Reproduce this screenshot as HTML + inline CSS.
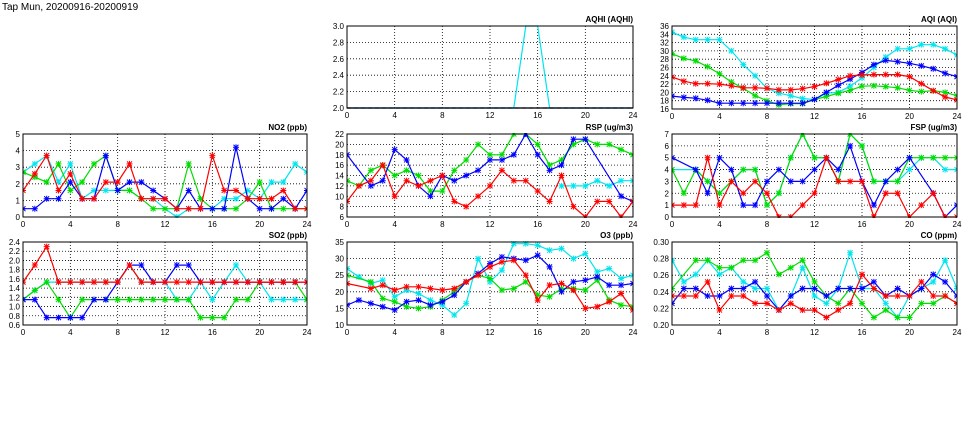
<!DOCTYPE html>
<html><head><meta charset="utf-8"><style>
html,body{margin:0;padding:0;background:#fff;}
svg{display:block;font-family:"Liberation Sans",sans-serif;}
</style></head><body>
<svg id="c" width="975" height="447" viewBox="0 0 975 447" xmlns="http://www.w3.org/2000/svg">
<text x="2" y="10" font-size="10" fill="#000">Tap Mun, 20200916-20200919</text>
</svg>
<script>
const hours = [0,1,2,3,4,5,6,7,8,9,10,11,12,13,14,15,16,17,18,19,20,21,22,23,24];
const xTicks = [0,4,8,12,16,20,24];
const seriesColors = ['#00e5ee','#00dd00','#0000ff','#ff0000'];
const N = null;
const no2Cyan=[2.7,3.2,3.7,2.1,3.2,1.1,1.6,1.6,1.6,1.6,1.1,1.1,0.5,0,0.5,0.5,0.5,1.1,1.1,1.6,1.1,2.1,2.1,3.2,2.7];
const no2Green=[2.7,2.4,2.1,3.2,1.6,2.1,3.2,3.7,1.6,1.6,1.1,0.5,0.5,0.5,3.2,1.1,0.5,0.5,0.5,1.1,2.1,0.5,0.5,0.5,0.5];
const no2Blue=[0.5,0.5,1.1,1.1,2.1,1.1,1.1,3.7,1.6,2.1,2.1,1.6,1.1,0.5,1.6,0.5,0.5,0.5,4.2,1.1,0.5,0.5,1.1,0.5,1.6];
const no2Red=[1.6,2.6,3.7,1.6,2.6,1.1,1.1,2.1,2.1,3.2,1.1,1.1,1.1,0.5,0.5,0.5,3.7,1.6,1.6,1.1,1.1,1.1,1.6,0.5,0.5];
const so2Cyan=[1.15,1.35,1.53,1.53,1.53,1.53,1.53,1.53,1.53,1.9,1.53,1.53,1.53,1.15,1.15,1.53,1.15,1.53,1.9,1.53,1.53,1.15,1.15,1.15,1.15];
const so2Green=[1.15,1.35,1.53,1.15,0.76,1.15,1.15,1.15,1.15,1.15,1.15,1.15,1.15,1.15,1.15,0.76,0.76,0.76,1.15,1.15,1.53,1.53,1.53,1.53,1.15];
const so2Blue=[1.15,1.15,0.76,0.76,0.76,0.76,1.15,1.15,1.53,1.9,1.9,1.53,1.53,1.9,1.9,1.53,1.53,1.53,1.53,1.53,1.53,1.53,1.53,1.53,1.53];
const so2Red=[1.53,1.9,2.3,1.53,1.53,1.53,1.53,1.53,1.53,1.9,1.53,1.53,1.53,1.53,1.53,1.53,1.53,1.53,1.53,1.53,1.53,1.53,1.53,1.53,1.53];
const rspCyan=[N,N,N,N,N,N,N,N,N,N,N,N,N,N,N,N,N,N,12,12,12,13,12,13,13];
const rspGreen=[13,12,15,16,14,15,14,11,11,15,17,20,18,18,22,22,20,16,17,20,21,20,20,19,18];
const rspBlue=[18,N,12,13,19,17,12,10,14,13,14,15,17,17,18,22,18,15,16,21,21,N,N,10,9];
const rspRed=[9,12,13,16,10,13,12,13,14,9,8,10,12,15,13,13,11,9,14,8,6,9,9,6,9];
const o3Cyan=[27,24.5,22.5,23.5,18.5,20.5,19.5,17.5,16,13,16.5,30,23,26.5,34.5,34.5,34,32.5,33,30,31.5,26,27,24,25];
const o3Green=[25,N,23,18,17,15.5,15,15.5,17.5,20,23,25,24,20.5,21,23,19,18.5,21,21,20.5,23.5,17.5,16,15.5];
const o3Blue=[16,17.5,16.5,15.5,14.5,17,17.5,16,17,19,23,25.5,28.5,30.5,30,29.5,31,27.5,20,23,23.5,24.5,22,22,22.5];
const o3Red=[22.5,N,21,22,20.5,21.5,21.5,21,20.5,21,23,25,27.5,29,29.5,25,17.5,22,22.5,20.5,15,15.5,17,19.5,14.5];
const aqhiCyan=[2,2,2,2,2,2,2,2,2,2,2,2,2,2,2,3,3,2,2,2,2,2,2,2,2];
const aqhiGreen=[2,2,2,2,2,2,2,2,2,2,2,2,2,2,2,2,2,2,2,2,2,2,2,2,2];
const aqhiBlue=[2,2,2,2,2,2,2,2,2,2,2,2,2,2,2,2,2,2,2,2,2,2,2,2,2];
const aqhiRed=[2,2,2,2,2,2,2,2,2,2,2,2,2,2,2,2,2,2,2,2,2,2,2,2,2];
const aqiCyan=[34.5,33.3,32.7,32.7,32.7,30,26.7,24,21,19.8,19.2,18.5,18.3,19.8,20,21.5,23.5,26,28.5,30.5,30.5,31.5,31.5,30.5,29];
const aqiGreen=[29.3,28.2,27.6,26.2,24.5,22.5,21,19.2,18,17,17.3,17.3,18.3,19,19.8,20.5,21.5,21.6,21.4,21.1,20.5,20.2,20.4,20,19.2];
const aqiBlue=[19.1,18.8,18.6,18.1,17.4,17.4,17.4,17.4,17.4,17.4,17.4,17.4,18.3,20,21.7,23.2,24.8,26.7,27.7,27.4,27,26.4,25.7,24.6,23.8];
const aqiRed=[23.7,22.7,22.1,22.1,22,21.6,21.1,21.1,21,20.6,20.6,20.9,21.4,22.2,23.1,24,24.2,24.3,24.3,24.3,23.8,22.1,20.4,18.9,18.2];
const fspCyan=[4,N,4,3,2,3,4,4,1,2,5,7,5,5,3,7,6,3,3,3,4,5,5,4,4];
const fspGreen=[4,2,4,3,2,3,4,4,1,2,5,7,5,5,3,7,6,3,3,3,5,5,5,5,5];
const fspBlue=[5,N,4,2,5,4,1,1,3,4,3,3,4,5,4,6,3,1,3,4,5,N,2,0,1];
const fspRed=[1,1,1,5,1,3,2,3,2,0,0,1,2,5,3,3,3,0,2,2,0,1,2,0,0];
const coCyan=[.278,.252,.261,.278,.261,.269,.252,.244,.244,.218,.235,.269,.235,.226,.244,.287,.244,.244,.226,.209,.235,.244,.252,.278,.244];
const coGreen=[.244,N,.278,.278,.269,.269,.278,.278,.287,.261,.269,.278,.252,.235,.226,.244,.226,.209,.218,.209,.209,.226,.226,.235,.226];
const coBlue=[.226,.244,.244,.235,.235,.244,.244,.252,.235,.218,.235,.244,.244,.235,.244,.244,.244,.252,.235,.244,.235,.244,.261,.252,.235];
const coRed=[.235,.235,.235,.252,.218,.235,.235,.226,.226,.218,.226,.218,.218,.209,.218,.226,.261,.244,.235,.235,.235,.252,.235,.235,.226];
const no2Ticks=[0,1,2,3,4,5];
const so2Ticks=[0.6,0.8,1.0,1.2,1.4,1.6,1.8,2.0,2.2,2.4];
const rspTicks=[6,8,10,12,14,16,18,20,22];
const o3Ticks=[10,15,20,25,30,35];
const aqhiTicks=[2.0,2.2,2.4,2.6,2.8,3.0];
const aqiTicks=[16,18,20,22,24,26,28,30,32,34,36];
const fspTicks=[0,1,2,3,4,5,6,7];
const coTicks=[0.20,0.22,0.24,0.26,0.28,0.30];

const NS='http://www.w3.org/2000/svg';
const svg=document.getElementById('c');
function mk(tag,attrs,parent){const e=document.createElementNS(NS,tag);for(const k in attrs)e.setAttribute(k,attrs[k]);(parent||svg).appendChild(e);return e;}

const panels=[
 {key:'no2',title:'NO2 (ppb)',x0:23,x1:307,y0:134,y1:217,ticks:no2Ticks,dec:0,series:[no2Cyan,no2Green,no2Blue,no2Red]},
 {key:'so2',title:'SO2 (ppb)',x0:23,x1:307,y0:242,y1:325,ticks:so2Ticks,dec:1,series:[so2Cyan,so2Green,so2Blue,so2Red]},
 {key:'aqhi',title:'AQHI (AQHI)',x0:347,x1:633,y0:26,y1:108,ticks:aqhiTicks,dec:1,series:[aqhiCyan,aqhiGreen,aqhiBlue,aqhiRed],dashRed:true},
 {key:'rsp',title:'RSP (ug/m3)',x0:347,x1:633,y0:134,y1:217,ticks:rspTicks,dec:0,series:[rspCyan,rspGreen,rspBlue,rspRed]},
 {key:'o3',title:'O3 (ppb)',x0:347,x1:633,y0:242,y1:325,ticks:o3Ticks,dec:0,series:[o3Cyan,o3Green,o3Blue,o3Red]},
 {key:'aqi',title:'AQI (AQI)',x0:672,x1:957,y0:26,y1:109,ticks:aqiTicks,dec:0,series:[aqiCyan,aqiGreen,aqiBlue,aqiRed]},
 {key:'fsp',title:'FSP (ug/m3)',x0:672,x1:957,y0:134,y1:217,ticks:fspTicks,dec:0,series:[fspCyan,fspGreen,fspBlue,fspRed]},
 {key:'co',title:'CO (ppm)',x0:672,x1:957,y0:242,y1:325,ticks:coTicks,dec:2,series:[coCyan,coGreen,coBlue,coRed]}
];
const names=['cyan','green','blue','red'];
panels.forEach(p=>{
 const g=mk('g',{});
 
 
 const ymin=p.ticks[0], ymax=p.ticks[p.ticks.length-1];
 const xs=h=>p.x0+(h-0)/24*(p.x1-p.x0);
 const ys=v=>p.y1-(v-ymin)/(ymax-ymin)*(p.y1-p.y0);
 const clip='clip-'+p.key;
 const cp=mk('clipPath',{id:clip},g);mk('rect',{x:p.x0,y:p.y0-1,width:p.x1-p.x0,height:p.y1-p.y0+2},cp);
 p.ticks.forEach(t=>{
  const y=ys(t);
  if(t!==ymin&&t!==ymax){const l=mk('line',{x1:p.x0,x2:p.x1,y1:y,y2:y,stroke:'#000','stroke-width':0.8,'stroke-dasharray':'1,2'},g);}
  const tx=mk('text',{x:p.x0-3,y:y+3,'font-size':8,'text-anchor':'end'},g);tx.textContent=t.toFixed(p.dec);
  
 });
 xTicks.forEach(t=>{
  const x=xs(t);
  if(t!==0&&t!==24){const l=mk('line',{x1:x,x2:x,y1:p.y0,y2:p.y1,stroke:'#000','stroke-width':0.8,'stroke-dasharray':'1,2'},g);}
  const tx=mk('text',{x:x,y:p.y1+10,'font-size':8,'text-anchor':'middle'},g);tx.textContent=t;
  
 });
 const tt=mk('text',{x:p.x1,y:p.y0-4,'font-size':8,'font-weight':'bold','text-anchor':'end'},g);tt.textContent=p.title;
 
 const sg=mk('g',{'clip-path':'url(#'+clip+')'},g);
 p.series.forEach((arr,si)=>{
  const col=seriesColors[si];
  const pts=[];arr.forEach((v,i)=>{if(v!==null)pts.push([xs(hours[i]),ys(v)]);});
  const dash=(p.dashRed&&si===3)?'4,3':'none';
  const pl=mk('polyline',{points:pts.map(q=>q[0].toFixed(1)+','+q[1].toFixed(1)).join(' '),fill:'none',stroke:col,'stroke-width':1.2,'stroke-dasharray':dash},sg);
  
  
  if(!p.dashRed){
   pts.forEach(q=>{
    const m=mk('path',{d:`M${q[0]-2.5},${q[1]-2.5}L${q[0]+2.5},${q[1]+2.5}M${q[0]-2.5},${q[1]+2.5}L${q[0]+2.5},${q[1]-2.5}M${q[0]},${q[1]-3}L${q[0]},${q[1]+3}M${q[0]-3},${q[1]}L${q[0]+3},${q[1]}`,stroke:col,'stroke-width':1},sg);
    
    
   });
  }
 });
 const fr=mk('rect',{x:p.x0,y:p.y0,width:p.x1-p.x0,height:p.y1-p.y0,fill:'none',stroke:'#000','stroke-width':1},g);
 
});
</script>
</body></html>
